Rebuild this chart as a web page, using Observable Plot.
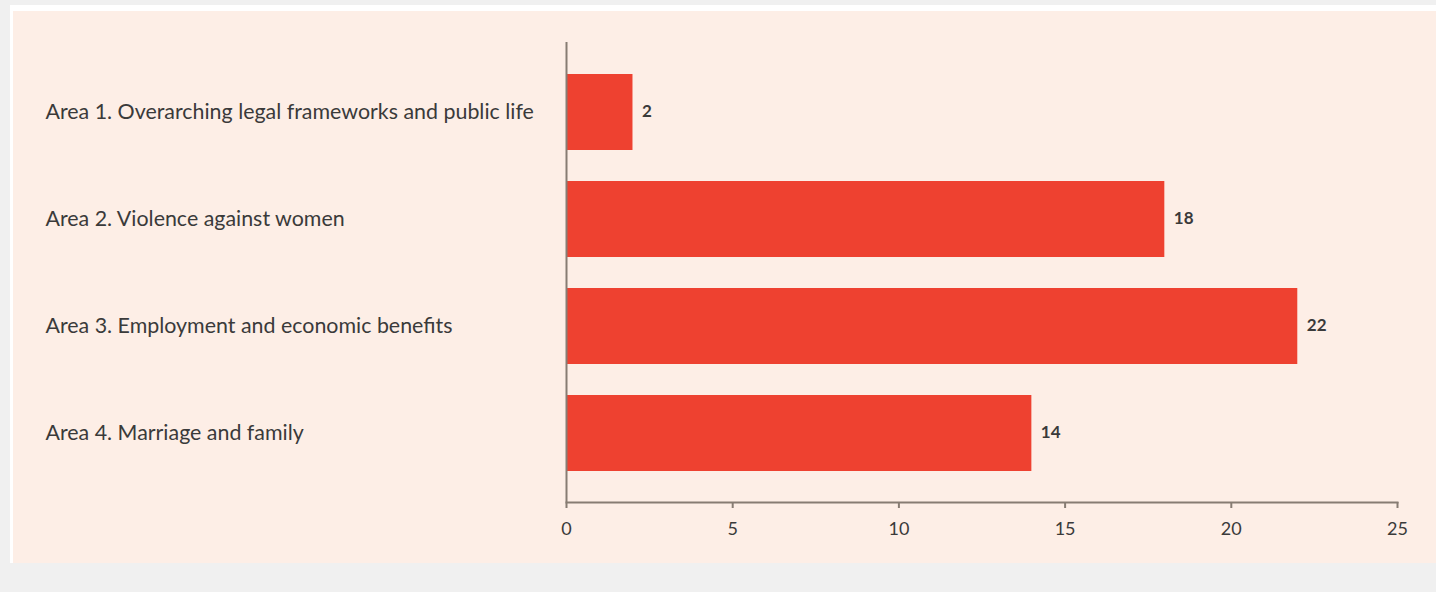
<!DOCTYPE html>
<html>
<head>
<meta charset="utf-8">
<script src="https://cdn.jsdelivr.net/npm/d3@7"></script>
<script src="https://cdn.jsdelivr.net/npm/@observablehq/plot@0.6"></script>
<style>
  html, body { margin: 0; padding: 0; background: #f0f0f0; width: 1436px; height: 592px; overflow: hidden; }
  #wrap { position: relative; width: 1436px; height: 592px; }
  #white { position: absolute; left: 10px; top: 5px; width: 1426px; height: 558px; background: #ffffff; }
  #panel { position: absolute; left: 13px; top: 11px; width: 1423px; height: 552px; background: #fdeee6; }
  #chart { position: absolute; left: 0; top: 0; }
</style>
</head>
<body>
<div id="wrap">
  <div id="white"></div>
  <div id="panel"></div>
  <div id="chart"></div>
</div>
<script>
const categories = [
  "Area 1. Overarching legal frameworks and public life",
  "Area 2. Violence against women",
  "Area 3. Employment and economic benefits",
  "Area 4. Marriage and family"
];
const values = [2, 18, 22, 14];
const xTicks = [0, 5, 10, 15, 20, 25];

const data = categories.map((c, i) => ({category: c, value: values[i]}));

const axisColor = "#877c73";
const textColor = "#3a3a3a";

const chart = Plot.plot({
  width: 1436,
  height: 592,
  marginLeft: 566,
  marginRight: 39,
  marginTop: 42,
  marginBottom: 90,
  style: {background: "transparent", fontFamily: "Lato, 'Open Sans', sans-serif"},
  x: {domain: [0, 25], ticks: xTicks, axis: null},
  y: {domain: categories, paddingInner: 0.29, paddingOuter: 0.29, axis: null},
  marks: [
    Plot.barX(data, {x: "value", y: "category", fill: "#ee4130"}),
    Plot.ruleX([0], {stroke: axisColor, strokeWidth: 2}),
    Plot.frame({anchor: "bottom", stroke: axisColor, strokeWidth: 2}),
    Plot.axisX({ticks: xTicks, tickSize: 6, tickPadding: 14, stroke: axisColor, strokeWidth: 2, fontSize: 18, label: null, fill: textColor}),
    Plot.text(data, {y: "category", text: "category", frameAnchor: "left", textAnchor: "start", dx: -521, fontSize: 21.4, fill: textColor}),
    Plot.text(data, {x: "value", y: "category", text: d => String(d.value), textAnchor: "start", dx: 9, dy: -1, fontSize: 17, fontWeight: "bold", fill: textColor})
  ]
});
document.getElementById("chart").appendChild(chart);
</script>
</body>
</html>
